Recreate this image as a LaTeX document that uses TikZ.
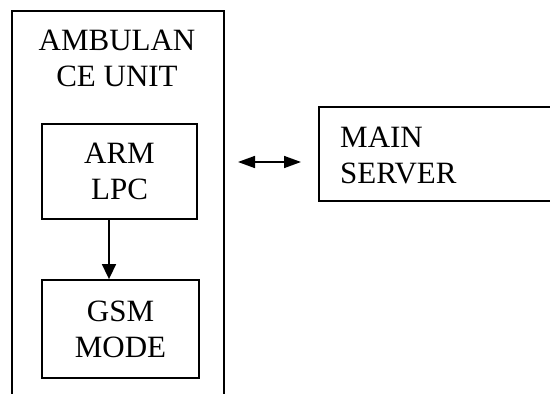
\documentclass[tikz,border=0pt]{standalone}
\usepackage{fontspec}
\setmainfont{Liberation Serif}
\usetikzlibrary{arrows.meta,calc}
\begin{document}
\begin{tikzpicture}[x=1pt,y=1pt,
  lbl/.style={font=\fontsize{31}{36}\selectfont, inner sep=0pt},
  blk/.style={draw, line width=1.8pt, inner sep=0pt, align=center,
    font=\fontsize{31}{36}\selectfont},
  frame/.style={line width=1.8pt},
  conn/.style={line width=1.6pt}]
\useasboundingbox (0,0) rectangle (550,-394);
% outer ambulance unit frame (open at the bottom)
\draw[frame] (12,-396) -- (12,-11) -- (224,-11) -- (224,-396);
\node[lbl, anchor=north, align=center] (amb) at (117,-29.5) {AMBULAN\\CE UNIT};
% inner blocks
\node[blk, minimum width=155pt, minimum height=95pt] (arm) at (119.5,-171.5) {ARM\\LPC};
\node[blk, minimum width=157pt, minimum height=98pt] (gsm) at (120.5,-329) {GSM\\MODE};
% main server (open at the right)
\draw[frame] (552,-107) -- (319,-107) -- (319,-201) -- (552,-201);
\node[lbl, anchor=north west, align=left] (srv) at (340,-126.5) {MAIN\\SERVER};
% connectors
\coordinate (a1) at ($(arm.south)+(-10.5,0)$);
\draw[conn,-{Triangle[length=15pt,width=14pt]}] (a1) -- (a1 |- gsm.north);
\coordinate (l1) at (238,-162);
\coordinate (r1) at (301,-162);
\draw[conn,{Triangle[length=17pt,width=12pt]}-{Triangle[length=17pt,width=12pt]}] (l1) -- (r1);
\end{tikzpicture}
\end{document}
